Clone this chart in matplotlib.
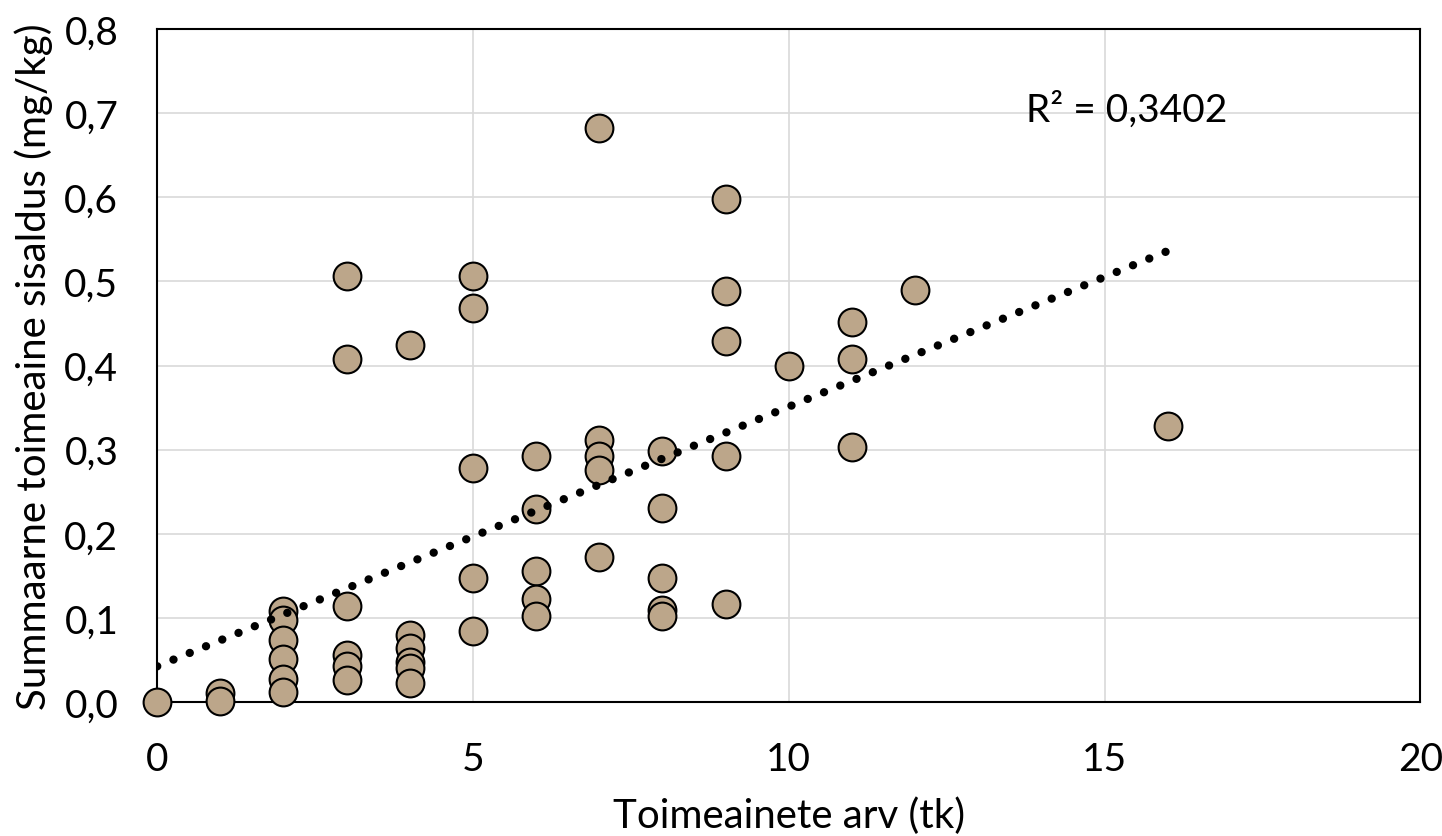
import numpy as np
import matplotlib.pyplot as plt

# Toimeainete arv proovis ja summaarne sisaldus (mg/kg)
arv = [0,
       1, 1,
       2, 2, 2, 2, 2, 2,
       3, 3, 3, 3, 3, 3,
       4, 4, 4, 4, 4, 4,
       5, 5, 5, 5, 5,
       6, 6, 6, 6, 6,
       7, 7, 7, 7, 7,
       8, 8, 8, 8, 8,
       9, 9, 9, 9, 9,
       10,
       11, 11, 11,
       12,
       16]
sisaldus = [0.000,
            0.011, 0.001,
            0.108, 0.098, 0.074, 0.051, 0.028, 0.012,
            0.506, 0.408, 0.114, 0.056, 0.043, 0.026,
            0.424, 0.080, 0.064, 0.048, 0.041, 0.023,
            0.507, 0.469, 0.278, 0.147, 0.085,
            0.292, 0.229, 0.156, 0.123, 0.102,
            0.682, 0.311, 0.292, 0.276, 0.173,
            0.298, 0.231, 0.148, 0.109, 0.102,
            0.598, 0.489, 0.429, 0.292, 0.117,
            0.399,
            0.452, 0.408, 0.303,
            0.490,
            0.328]
r2_tekst = "R² = 0,3402"

plt.rcParams['font.family'] = ['Lato', 'DejaVu Sans']

fig = plt.figure(figsize=(14.42, 8.37), dpi=100)
ax = fig.add_axes([0.109, 0.160, 0.876, 0.804])

ax.scatter(arv, sisaldus, s=400, color='#BCA68A', edgecolor='black',
           linewidth=1.5, zorder=3, clip_on=False)

# lineaarne trend
k, b = np.polyfit(arv, sisaldus, 1)
xt = np.array([0, max(arv)])
ax.plot(xt, k * xt + b, color='black', linewidth=6,
        linestyle=(0, (0.01, 2.1)), dash_capstyle='round', zorder=4)

ax.text(13.75, 0.705, r2_tekst, fontsize=28, va='center', ha='left')

ax.set_xlim(0, 20)
ax.set_ylim(0, 0.8)
ax.set_xticks([0, 5, 10, 15, 20])
ax.set_yticks(np.arange(0, 0.81, 0.1))
ax.set_yticklabels([f"{v:.1f}".replace('.', ',') for v in np.arange(0, 0.81, 0.1)])
ax.tick_params(length=0, labelsize=28)
ax.tick_params(axis='y', pad=28)
ax.tick_params(axis='x', pad=28)
ax.grid(True, color='#D9D9D9', linewidth=1.2, zorder=0)
ax.set_axisbelow(True)
for s in ax.spines.values():
    s.set_linewidth(1.5)
    s.set_color('black')

ax.set_xlabel("Toimeainete arv (tk)", fontsize=29, labelpad=14)
ax.set_ylabel("Summaarne toimeaine sisaldus (mg/kg)", fontsize=29, labelpad=8)

fig.savefig("out.png", dpi=100)
